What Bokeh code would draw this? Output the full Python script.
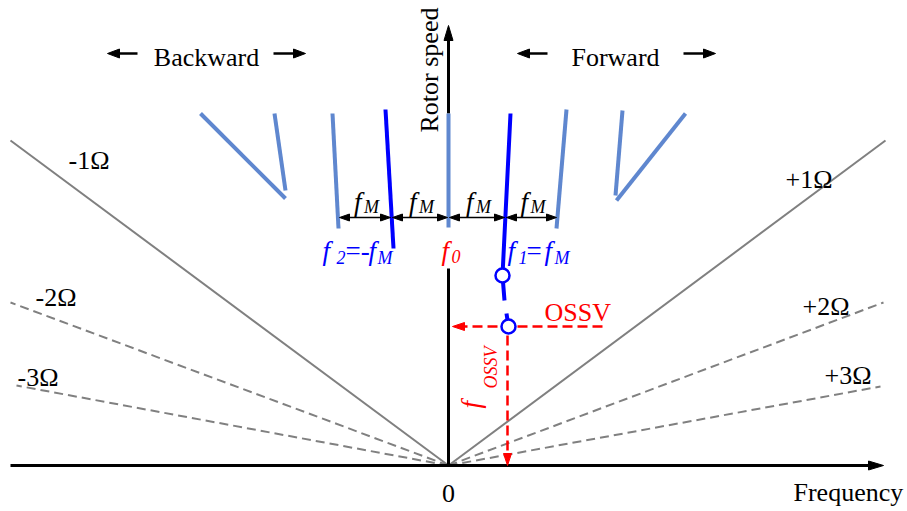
import math
from bokeh.plotting import figure
from bokeh.models import Range1d
from bokeh.core.properties import value
from bokeh.embed import file_html
from bokeh.resources import INLINE

FONT = value("Liberation Serif")

# ---- data (frequency, rotor speed) in schematic units, origin at (0, 0) ----
# harmonic excitation lines k*Omega: end points
HARM_X = [437, -438, 435, -438, 432, -432]
HARM_Y = [325, 325, 163, 163, 79, 80]
HARM_DASHED = [False, False, True, True, True, True]
HARM_LABELS = ["+1Ω", "-1Ω", "+2Ω", "-2Ω", "+3Ω", "-3Ω"]
HARM_LABEL_X = [337, -380, 354, -413, 376, -431]
HARM_LABEL_Y = [278, 297, 151, 160, 82, 80]

# side-band mode branches (light blue)
SIDE_X0 = [-248, -174, -116, 0, 118, 174, 237]
SIDE_Y0 = [352, 352, 352, 352, 356, 355, 352]
SIDE_X1 = [-163, -163, -110, 0, 108, 167, 168]
SIDE_Y1 = [267, 275, 237, 238, 237, 270, 265]

# dominant branches (dark blue)
F2_X = [-63, -55]
F2_Y = [356, 217]
F1_X = [62, 54, 56]
F1_Y = [352, 190, 165]
F1_TAIL_X = [58, 60]
F1_TAIL_Y = [152, 139]
MARK_X = [54, 60]
MARK_Y = [190, 139]

# f_M spacing marks (positions of branches at the marker height)
FM_X = [-110, -57, 0, 57, 109]
FM_Y = 248

# onset of self-sustained vibration
OSSV_X = 59
OSSV_Y = 139
OSSV_LINE_END = 154

AXIS_X_MIN, AXIS_X_MAX = -438, 435
AXIS_Y_MAX = 440

LIGHT = "#5f87cf"
DARK = "#0000ff"
RED = "#ff0000"
GRAY = "#808080"

TS = 8  # baseline correction for text placement (pixels)

p = figure(width=907, height=511, output_backend="svg", toolbar_location=None,
           x_range=Range1d(-448, 459), y_range=Range1d(-46, 465),
           x_axis_type=None, y_axis_type=None, min_border=0)
p.outline_line_color = None
p.xgrid.visible = False
p.ygrid.visible = False
p.background_fill_color = "white"


def head(tx, ty, dx, dy, length, width, color):
    n = math.hypot(dx, dy)
    ux, uy = dx / n, dy / n
    bx, by = tx - ux * length, ty - uy * length
    px, py = -uy * width / 2, ux * width / 2
    p.patch([tx, bx + px, bx - px], [ty, by + py, by - py],
            fill_color=color, line_color=color, line_width=1)


def arrow(x0, y0, x1, y1, length, width, color, lw, dash="solid", both=False):
    dx, dy = x1 - x0, y1 - y0
    n = math.hypot(dx, dy)
    ux, uy = dx / n, dy / n
    sx, sy = (x0 + ux * length * 0.6, y0 + uy * length * 0.6) if both else (x0, y0)
    p.line([sx, x1 - ux * length * 0.6], [sy, y1 - uy * length * 0.6],
           line_color=color, line_width=lw, line_dash=dash)
    head(x1, y1, dx, dy, length, width, color)
    if both:
        head(x0, y0, -dx, -dy, length, width, color)


def txt(xs, ys, texts, size="26px", color="black", style="normal",
        align="left", angle=0.0):
    if angle:
        xs = [x - TS for x in xs]
    else:
        ys = [y + TS for y in ys]
    p.text(xs, ys, text=texts, text_font=FONT, text_font_size=size,
           text_font_style=style, text_color=color, text_align=align,
           text_baseline="alphabetic", angle=angle)


# harmonic lines
for hx, hy, d in zip(HARM_X, HARM_Y, HARM_DASHED):
    p.line([0, hx], [0, hy], line_color=GRAY, line_width=2,
           line_dash="9 5" if d else "solid")
txt(HARM_LABEL_X, HARM_LABEL_Y, HARM_LABELS)

# axes
arrow(AXIS_X_MIN, 0, AXIS_X_MAX, 0, 15, 9, "black", 3)
p.line([0, 0], [0, 197], line_color="black", line_width=3)
arrow(0, 352, 0, AXIS_Y_MAX, 15, 9, "black", 3)

# mode branches
p.segment(SIDE_X0, SIDE_Y0, SIDE_X1, SIDE_Y1, line_color=LIGHT, line_width=4)
p.line(F2_X, F2_Y, line_color=DARK, line_width=4)
p.line(F1_X, F1_Y, line_color=DARK, line_width=4)
p.line(F1_TAIL_X, F1_TAIL_Y, line_color=DARK, line_width=4)

# f_M spacing arrows
for a, b in zip(FM_X[:-1], FM_X[1:]):
    arrow(a + 1, FM_Y, b - 1, FM_Y, 10, 7, "black", 1.5, both=True)
    c = (a + b) / 2
    txt([c - 11], [FM_Y + 8], ["f"], size="27px", style="italic")
    txt([c - 1], [FM_Y + 3], ["M"], size="18px", style="italic")

# OSSV guides
arrow(OSSV_LINE_END, OSSV_Y, 4, OSSV_Y, 12, 8, RED, 2.5, dash="10 5")
arrow(OSSV_X, OSSV_Y - 9, OSSV_X, 0, 12, 8, RED, 2.5, dash="10 5")

# markers
p.scatter(MARK_X, MARK_Y, size=14, marker="circle", fill_color="white",
          line_color=DARK, line_width=2.5)


def rich(pieces, color, angle=0.0):
    for x, y, t, size, style in pieces:
        txt([x], [y], [t], size=size, color=color, style=style, angle=angle)


rich([(-7, 207, "f", "27px", "italic"), (3, 201, "0", "18px", "italic")], RED)
rich([(-126, 207, "f", "27px", "italic"), (-112, 200, "2", "18px", "italic"),
      (-103, 207, "=-", "27px", "normal"), (-80, 207, "f", "27px", "italic"),
      (-71, 200, "M", "18px", "italic")], DARK)
rich([(59, 207, "f", "27px", "italic"), (70, 200, "1", "18px", "italic"),
      (78, 207, "=", "27px", "normal"), (96, 207, "f", "27px", "italic"),
      (106, 200, "M", "18px", "italic")], DARK)
rich([(30, 57, "f", "27px", "italic"), (50, 77, "OSSV", "18px", "italic")], RED,
     angle=math.pi / 2)

txt([96], [145], ["OSSV"], color=RED)

# direction captions
txt([-242, 167], [400, 400], ["Backward", "Forward"], align="center")
for x0, x1 in [(-311, -341), (-175, -143), (99, 69), (235, 267)]:
    arrow(x0, 412, x1, 412, 12, 9, "black", 2.5)

txt([-11], [333], ["Rotor speed"], angle=math.pi / 2)
txt([345], [-35], ["Frequency"])
txt([0], [-36], ["0"], align="center")

open("out.html", "w").write(file_html(p, INLINE))
